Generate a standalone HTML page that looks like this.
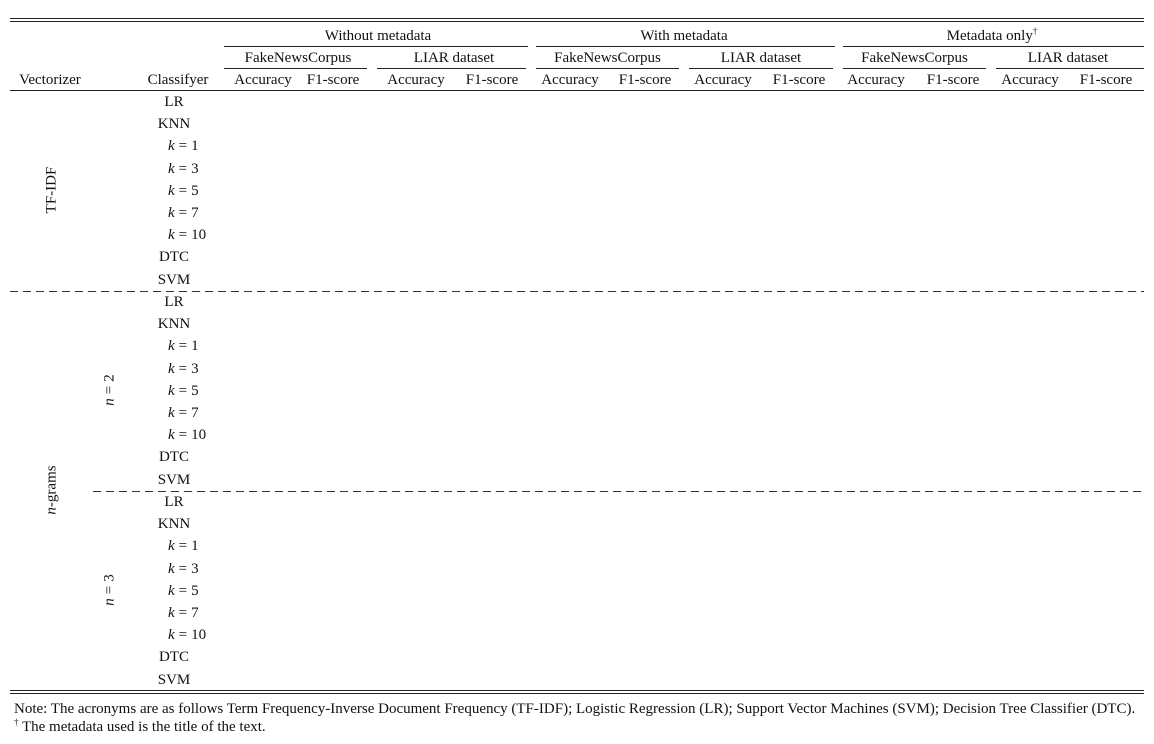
<!DOCTYPE html>
<html><head><meta charset="utf-8">
<style>
html,body{margin:0;padding:0;background:#fff;}
#root{position:relative;width:1154px;height:744px;overflow:hidden;font-family:"Liberation Serif",serif;font-size:15px;color:#111;}
.t{position:absolute;white-space:nowrap;transform:translate(-50%,-40%);line-height:1;}
.l{position:absolute;white-space:nowrap;transform:translateY(-40%);line-height:1;}
.r{position:absolute;background:#222;height:1px;}
.rot{position:absolute;white-space:nowrap;transform:translate(-50%,-50%) rotate(-90deg);line-height:1;}
i{font-style:italic;}
.eq{padding:0 4px;}
</style></head><body>
<div id="root">
<div class="r" style="left:10px;top:18px;width:1134px"></div>
<div class="r" style="left:10px;top:21px;width:1134px"></div>
<div class="t" style="left:378px;top:35px">Without metadata</div>
<div class="t" style="left:684px;top:35px">With metadata</div>
<div class="t" style="left:992px;top:34px">Metadata only<sup style="font-size:9px">†</sup></div>
<div class="r" style="left:224px;top:46px;width:304px"></div>
<div class="r" style="left:536px;top:46px;width:299px"></div>
<div class="r" style="left:843px;top:46px;width:301px"></div>
<div class="t" style="left:50px;top:79px">Vectorizer</div>
<div class="t" style="left:178px;top:79px">Classifyer</div>
<div class="r" style="left:10px;top:90px;width:1134px"></div>
<svg style="position:absolute;left:0;top:0" width="1154" height="744">
<line x1="10" y1="291.5" x2="1144" y2="291.5" stroke="#333" stroke-width="1" stroke-dasharray="8,5"/>
<line x1="93" y1="491.5" x2="1144" y2="491.5" stroke="#333" stroke-width="1" stroke-dasharray="8,5"/>
</svg>
<div class="rot" style="left:52px;top:190px">TF-IDF</div>
<div class="rot" style="left:110px;top:390px"><i>n</i><span class="eq">=</span>2</div>
<div class="rot" style="left:52px;top:490px"><i>n</i>-grams</div>
<div class="rot" style="left:110px;top:590px"><i>n</i><span class="eq">=</span>3</div>
<div class="r" style="left:10px;top:690px;width:1134px"></div>
<div class="r" style="left:10px;top:693px;width:1134px"></div>
<div class="l" style="left:14px;top:708px">Note: The acronyms are as follows Term Frequency-Inverse Document Frequency (TF-IDF); Logistic Regression (LR); Support Vector Machines (SVM); Decision Tree Classifier (DTC).</div>
<div class="l" style="left:14px;top:725px"><sup style="font-size:9px">†</sup> The metadata used is the title of the text.</div>
</div>
<script>
const datasets=["FakeNewsCorpus","LIAR dataset","FakeNewsCorpus","LIAR dataset","FakeNewsCorpus","LIAR dataset"];
const metrics=["Accuracy","F1-score"];
const classifiers=["LR","KNN","k = 1","k = 3","k = 5","k = 7","k = 10","DTC","SVM"];
const colCenters=[263,333,416,492,570,645,723,799,876,953,1030,1106];
const bounds=[224,372,531,684,838,991,1144];
const root=document.getElementById('root');
function add(cls,html,x,y){const e=document.createElement('div');e.className=cls;e.innerHTML=html;e.style.left=x+'px';e.style.top=y+'px';root.appendChild(e);return e;}
datasets.forEach((d,i)=>{
  const e=add('t',d,(colCenters[2*i]+colCenters[2*i+1])/2,57);
  
  
  const r=document.createElement('div');r.className='r';
  const x0=bounds[i]+(i?5:0),x1=bounds[i+1]-(i<5?5:0);
  r.style.left=x0+'px';r.style.top='68px';r.style.width=(x1-x0)+'px';
  
  
  root.appendChild(r);
});
colCenters.forEach((c,i)=>{
  const e=add('t',metrics[i%2],c,79);
  
  
});
[101,301,501].forEach(y0=>{
  classifiers.forEach((c,j)=>{
    const y=y0+j*22.2;let e;
    if(c.startsWith('k')){e=add('l','<i>k</i><span class="eq">=</span>'+c.slice(4),168,y);}
    else e=add('t',c,174,y);
    
    
  });
});
</script>
</body></html>
